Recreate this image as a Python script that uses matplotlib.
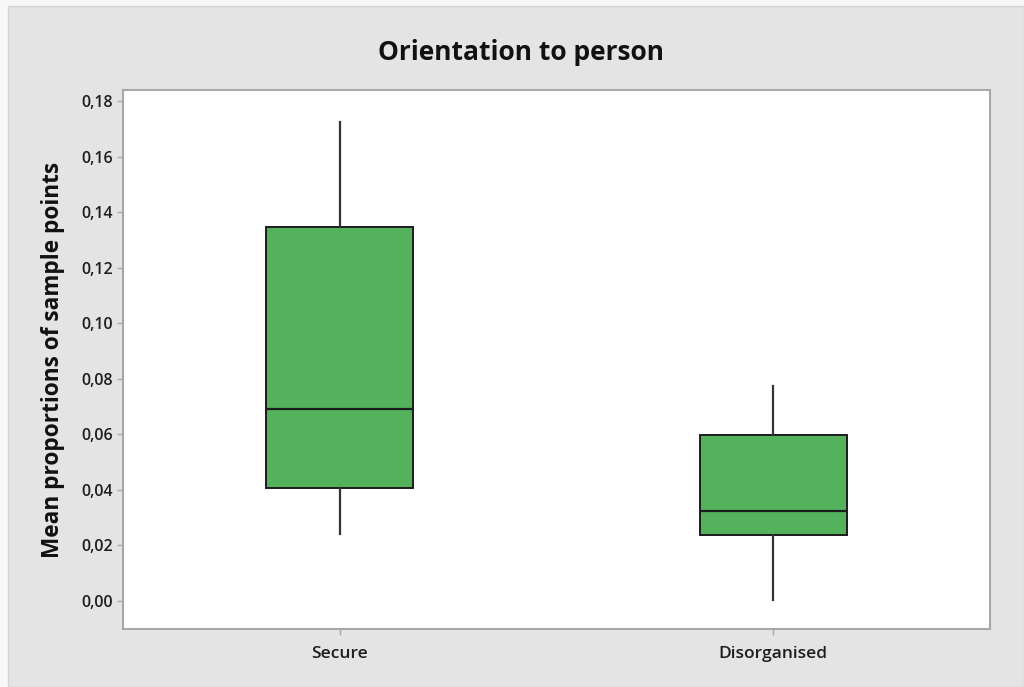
import matplotlib
matplotlib.use("Agg")
import matplotlib.pyplot as plt
from matplotlib.patches import Rectangle
from matplotlib.ticker import FixedLocator, FuncFormatter

plt.rcParams['font.family'] = ['Open Sans', 'DejaVu Sans']

# Box-plot summary values per group
groups = ["Secure", "Disorganised"]
whisker_low = [0.0241, 0.0004]
q1 = [0.0407, 0.0238]
median = [0.0691, 0.0324]
q3 = [0.1346, 0.0598]
whisker_high = [0.1724, 0.0774]

y_ticks = [0.00, 0.02, 0.04, 0.06, 0.08, 0.10, 0.12, 0.14, 0.16, 0.18]

fig = plt.figure(figsize=(10.24, 6.87), dpi=100)
fig.patch.set_facecolor('#f7f7f7')
fig.patches.append(Rectangle((8 / 1024, 0), 1 - 8 / 1024, 1 - 6 / 687,
                             transform=fig.transFigure, facecolor='#e4e4e4',
                             edgecolor='#d4d4d4', linewidth=1, zorder=-5))

ax = fig.add_axes([123 / 1024, 1 - 629 / 687, (990 - 123) / 1024, (629 - 90) / 687])
ax.set_facecolor('white')

stats = []
for i, g in enumerate(groups):
    stats.append(dict(label=g, whislo=whisker_low[i], q1=q1[i], med=median[i],
                      q3=q3[i], whishi=whisker_high[i], fliers=[]))

ax.bxp(stats, positions=[1, 2], widths=0.34, patch_artist=True, showcaps=False,
       boxprops=dict(facecolor='#53b25b', edgecolor='#1c1c1c', linewidth=1.4),
       medianprops=dict(color='#1c1c1c', linewidth=1.6),
       whiskerprops=dict(color='#333333', linewidth=1.6))

ax.set_xlim(0.5, 2.5)
ax.set_ylim(-0.0101, 0.184)
ax.yaxis.set_major_locator(FixedLocator(y_ticks))
ax.yaxis.set_major_formatter(FuncFormatter(lambda v, p: f"{v:.2f}".replace('.', ',')))

for s in ax.spines.values():
    s.set_color('#a8a8a8')
    s.set_linewidth(1.5)

ax.tick_params(axis='both', colors='#a8a8a8', length=4, width=1, labelcolor='#1e1e1e')
ax.tick_params(axis='x', pad=8, labelsize=12.5)
ax.tick_params(axis='y', pad=3, labelsize=11.5)
for lab in ax.get_xticklabels() + ax.get_yticklabels():
    lab.set_fontweight('semibold')

ax.set_ylabel("Mean proportions of sample points", fontsize=16.3, fontweight='bold',
              color='#111111', labelpad=12)
fig.text(0.5085, 1 - 52 / 687, "Orientation to person", ha='center', va='center',
         fontsize=19, fontweight='bold', color='#111111')

fig.savefig("out.png", dpi=100, facecolor=fig.get_facecolor())
